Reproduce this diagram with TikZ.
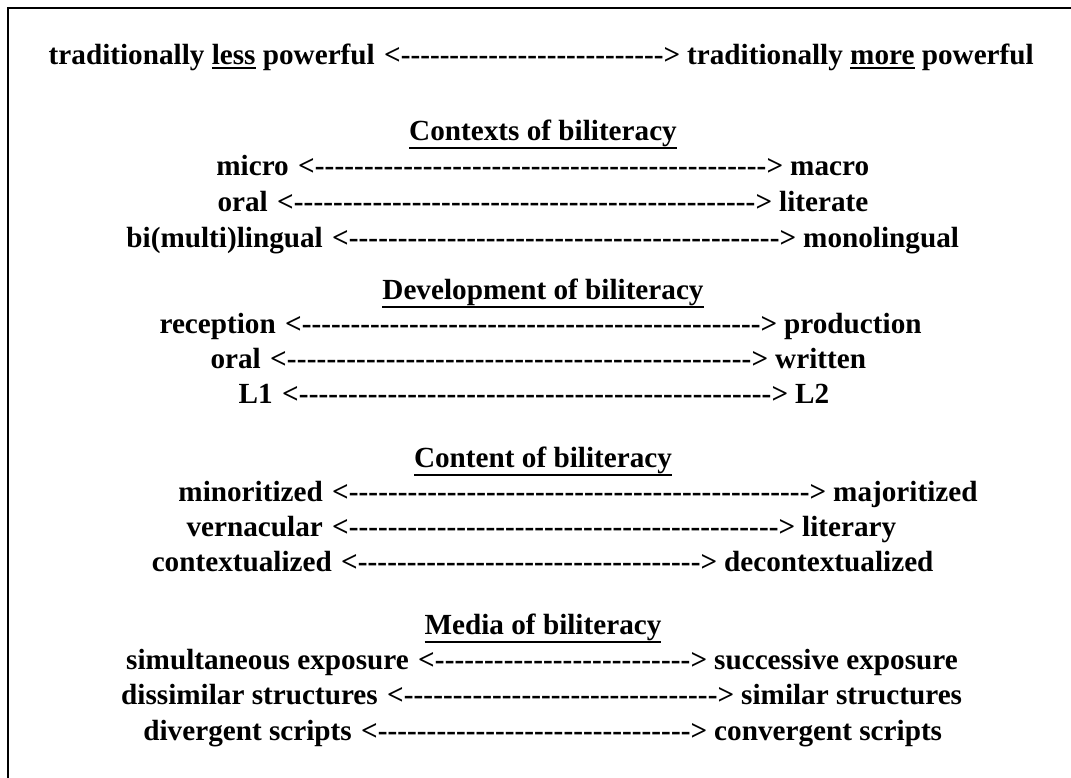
\documentclass[tikz,border=0pt]{standalone}
\usepackage{fontspec}
\setmainfont{Liberation Serif}
\newcommand\ulw[1]{\setbox0\hbox{#1}\rlap{\vrule height -2.5pt depth 5pt width \wd0}\box0\relax}
\newcommand\ulh[1]{\setbox0\hbox{#1}\rlap{\vrule height -6.5pt depth 9pt width \wd0}\box0\relax}
\newcommand\darr[1]{\hbox to #1pt{<\xleaders\hbox{-}\hfill>}}
\tikzset{
  lab/.style={font=\fontsize{29.2}{35}\selectfont\bfseries, inner sep=0pt},
  frame/.style={line width=2.6pt, draw=black}
}
\newcommand\row[6]{%
  \node[lab, anchor=base east] (#1L) at (#4-9,#2) {#3};
  \node[lab, anchor=base west] (#1A) at (#4,#2) {\darr{\the\numexpr#5-#4\relax}};
  \node[lab, anchor=base west] (#1R) at (#5+7,#2) {#6};
}
\begin{document}
\begin{tikzpicture}[x=1pt,y=-1pt]
\path[use as bounding box, clip] (0,0) rectangle (1071,777);
\draw[frame] (8,8) rectangle (1090,800);
\node[lab, anchor=base east] (tL) at (375,64) {traditionally \ulw{less} powerful};
\node[lab, anchor=base west] (tA) at (384,64) {\darr{296}};
\node[lab, anchor=base west] (tR) at (687,64) {traditionally \ulw{more} powerful};
\node[lab, anchor=base] (h1) at (543,140) {\ulh{Contexts of biliteracy}};
\row{a}{175}{micro}{298}{783}{macro}
\row{b}{211}{oral}{277}{772}{literate}
\row{c}{247}{bi(multi)lingual}{332}{796}{monolingual}
\node[lab, anchor=base] (h2) at (543,299) {\ulh{Development of biliteracy}};
\row{d}{333}{reception}{285}{777}{production}
\row{e}{368}{oral}{270}{768}{written}
\row{f}{403}{L1}{282}{788}{L2}
\node[lab, anchor=base] (h3) at (543,467) {\ulh{Content of biliteracy}};
\row{g}{501}{minoritized}{332}{826}{majoritized}
\row{h}{536}{vernacular}{332}{795}{literary}
\row{i}{571}{contextualized}{341}{717}{decontextualized}
\node[lab, anchor=base] (h4) at (543,634) {\ulh{Media of biliteracy}};
\row{j}{669}{simultaneous exposure}{418}{707}{successive exposure}
\row{k}{704}{dissimilar structures}{387}{734}{similar structures}
\row{l}{740}{divergent scripts}{361}{707}{convergent scripts}
\end{tikzpicture}
\end{document}
